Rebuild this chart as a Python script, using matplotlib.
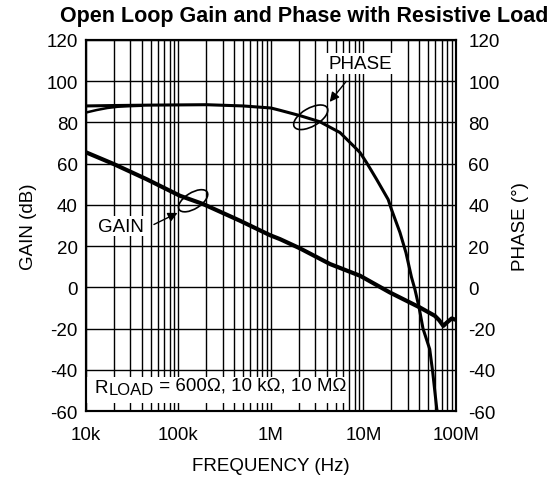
import numpy as np
import matplotlib
matplotlib.use('Agg')
import matplotlib.pyplot as plt
from matplotlib.patches import Ellipse, Rectangle
from matplotlib.transforms import ScaledTranslation
from matplotlib.ticker import LogLocator, NullFormatter

plt.rcParams['font.family'] = ['Liberation Sans', 'DejaVu Sans']
plt.rcParams['axes.unicode_minus'] = False

# ---- data ----
gain_freq = [1e4, 2e4, 4.5e4, 1.04e5, 1.85e5, 4.63e5, 9.76e5, 1.25e6, 2.06e6,
             4.35e6, 9.2e6, 1.93e7, 4.08e7, 5.9e7, 6.6e7, 7.3e7, 8.0e7, 9.0e7, 1e8]
gain_db = [65.5, 59.8, 52.5, 44.4, 40.4, 32.3, 25.3, 23.4, 18.9,
           11.3, 5.6, -2.5, -9.8, -13.8, -16.0, -18.7, -17.0, -15.1, -15.8]

phase_freq = [1e4, 2e4, 5e4, 1e5, 2e5, 5e5, 1e6, 1.25e6, 2.06e6, 3.39e6,
              4.5e6, 5.57e6, 8e6, 9.17e6, 1.08e7, 1.2e7, 1.39e7, 1.85e7,
              2.0e7, 2.48e7, 2.88e7, 3.3e7, 3.6e7, 4.0e7, 4.4e7, 5.2e7,
              5.6e7, 6.2e7, 6.4e7]
phase_deg = [88.0, 88.2, 88.4, 88.5, 88.6, 88.0, 87.0, 85.9, 83.3, 80.3,
             77.3, 75.1, 68.1, 65.4, 60.5, 57.1, 52.3, 42.6,
             38.0, 26.6, 16.8, 5.0, -1.0, -10.0, -20.0, -30.0,
             -41.0, -59.0, -62.0]

# second load: phase starts lower and joins the main trace
phase2_freq = [1e4, 1.3e4, 1.7e4, 2.2e4, 3e4, 4e4]
phase2_deg = [84.8, 86.0, 87.0, 87.6, 87.9, 88.1]

yticks = [-60, -40, -20, 0, 20, 40, 60, 80, 100, 120]
xticks = [1e4, 1e5, 1e6, 1e7, 1e8]
xticklabels = ['10k', '100k', '1M', '10M', '100M']

fig = plt.figure(figsize=(5.59, 4.85), dpi=100)
ax = fig.add_axes([0.1538, 0.1505, 0.6619, 0.765])
ax2 = ax.twinx()

ax.set_xscale('log')
ax.set_xlim(1e4, 1e8)
ax.set_ylim(-60, 120)
ax2.set_ylim(-60, 120)
ax.set_yticks(yticks)
ax2.set_yticks(yticks)
ax.set_xticks(xticks)
ax.set_xticklabels(xticklabels)
ax.xaxis.set_minor_locator(LogLocator(base=10, subs=np.arange(2, 10)))
ax.xaxis.set_minor_formatter(NullFormatter())

ax.set_axisbelow(True)
ax.grid(True, which='both', axis='x', color='black', lw=1.0)
ax.grid(True, which='major', axis='y', color='black', lw=1.0)

ax.tick_params(axis='y', length=0, labelsize=13.5, pad=6)
ax2.tick_params(axis='y', length=0, labelsize=13.5, pad=9)
ax.tick_params(axis='x', which='both', length=0, labelsize=13.5, pad=11)

for a in (ax, ax2):
    for s in a.spines.values():
        s.set_linewidth(1.5)

ax.plot(gain_freq, gain_db, color='black', lw=3.0, zorder=4)
ax2.plot(phase_freq, phase_deg, color='black', lw=2.2, zorder=4)
ax2.plot(phase2_freq, phase2_deg, color='black', lw=1.8, zorder=4)

ax.set_ylabel('GAIN (dB)', fontsize=13.5, labelpad=7)
ax2.set_ylabel('PHASE (°)', fontsize=13.5, labelpad=9)
ax.set_xlabel('FREQUENCY (Hz)', fontsize=13.5, labelpad=10)

fig.text(0.545, 0.967, 'Open Loop Gain and Phase with Resistive Load',
         ha='center', va='center', fontsize=15.5, fontweight='bold')

# load condition label: white panel leaves short grid stubs top and bottom
ax.add_patch(Rectangle((0.004, 0.022), 0.705, 0.07, transform=ax.transAxes,
                       facecolor='white', edgecolor='none', zorder=2))
t1 = ax.text(0.022, 0.052, 'R', transform=ax.transAxes, fontsize=13.5,
             ha='left', va='baseline', zorder=3)
t2 = ax.annotate('LOAD', xy=(1, 0), xycoords=t1, xytext=(0.5, -1.2),
                 textcoords='offset points', fontsize=12, ha='left',
                 va='bottom', zorder=3)
ax.annotate(' = 600Ω, 10 kΩ, 10 MΩ', xy=(1, 0), xycoords=t2,
            xytext=(0, 2.8), textcoords='offset points', fontsize=13.5,
            ha='left', va='bottom', zorder=3)

# GAIN callout
ax.text(2.39e4, 29.7, 'GAIN', fontsize=13.5, ha='center', va='center',
        zorder=3, bbox=dict(boxstyle='square,pad=0.1', facecolor='white',
                            edgecolor='none'))
ax.annotate('', xy=(1.04e5, 36.7), xytext=(5.1e4, 29.9),
            arrowprops=dict(arrowstyle='-|>', color='black', lw=1.0,
                            mutation_scale=14), zorder=5)
ax.add_patch(Ellipse((0, 0), 0.33, 0.16, angle=32, fill=False, lw=1.2,
                     color='black', zorder=5,
                     transform=fig.dpi_scale_trans +
                     ScaledTranslation(1.44e5, 42.0, ax.transData)))

# PHASE callout
ax2.text(9.3e6, 108.6, 'PHASE', fontsize=13.5, ha='center', va='center',
         zorder=3, bbox=dict(boxstyle='square,pad=0.12', facecolor='white',
                             edgecolor='none'))
ax2.annotate('', xy=(4.13e6, 88.9), xytext=(6.8e6, 101.0),
             arrowprops=dict(arrowstyle='-|>', color='black', lw=1.0,
                             mutation_scale=14), zorder=5)
ax2.add_patch(Ellipse((0, 0), 0.38, 0.18, angle=30, fill=False, lw=1.2,
                      color='black', zorder=5,
                      transform=fig.dpi_scale_trans +
                      ScaledTranslation(2.69e6, 82.5, ax2.transData)))

fig.savefig('out.png', dpi=100)
